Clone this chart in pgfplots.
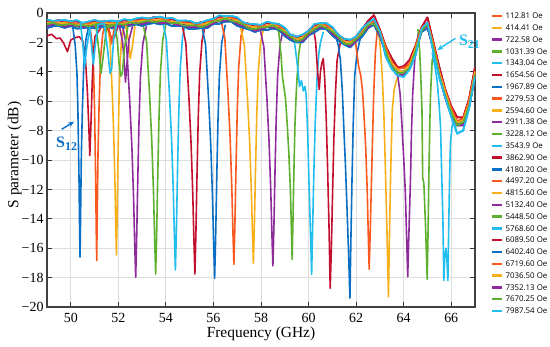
\documentclass[border=0pt]{standalone}
\usepackage{fontspec}
\setmainfont{Liberation Serif}
\newfontfamily\legfont{Open Sans}
\usepackage{pgfplots}
\pgfplotsset{compat=1.18}
\usepackage{pgfplotstable}
\usetikzlibrary{arrows.meta}
\definecolor{cO}{HTML}{F9591F}
\definecolor{cY}{HTML}{F7B01A}
\definecolor{cP}{HTML}{8E2C9C}
\definecolor{cG}{HTML}{5DB12E}
\definecolor{cC}{HTML}{21BDEF}
\definecolor{cR}{HTML}{C3102F}
\definecolor{cB}{HTML}{0B6FC4}

\pgfplotstableread{
x y
49.00 -0.53
49.25 -0.57
49.50 -0.49
49.75 -0.66
50.00 -0.56
50.25 -0.57
50.50 -0.75
50.75 -0.66
51.00 -0.55
51.25 -0.62
51.50 -0.53
51.75 -0.69
52.00 -0.58
52.25 -0.50
52.50 -0.57
52.75 -0.46
53.00 -0.38
53.25 -0.42
53.50 -0.29
53.75 -0.42
54.00 -0.38
54.25 -0.40
54.50 -0.60
54.75 -0.60
55.00 -0.61
55.25 -0.74
55.50 -0.63
55.75 -0.66
56.00 -0.41
56.25 -0.24
56.50 -0.30
56.75 -0.28
57.00 -0.38
57.25 -0.67
57.50 -0.73
57.75 -0.94
58.00 -0.81
58.25 -0.67
58.50 -0.77
58.75 -0.83
59.00 -1.08
59.25 -1.52
59.50 -1.61
59.75 -1.64
60.00 -1.21
60.25 -0.82
60.50 -0.77
60.75 -0.78
61.00 -1.03
61.25 -1.52
61.50 -1.76
61.75 -1.99
62.00 -1.61
62.25 -1.12
62.50 -0.55
62.75 -0.15
63.00 -1.13
63.25 -2.29
63.50 -3.08
63.75 -3.71
64.00 -3.63
64.25 -3.19
64.50 -2.22
64.75 -0.98
65.00 -0.30
65.25 -1.99
65.50 -3.68
65.75 -5.21
66.00 -6.33
66.25 -7.09
66.50 -7.12
66.75 -5.85
67.00 -3.70
}\bR

\pgfplotstableread{
x y
49.00 -0.69
49.25 -0.53
49.50 -0.69
49.75 -0.65
50.00 -0.59
50.25 -0.77
50.50 -0.75
50.75 -0.68
51.00 -0.71
51.25 -0.58
51.50 -0.73
51.75 -0.68
52.00 -0.61
52.25 -0.70
52.50 -0.57
52.75 -0.48
53.00 -0.54
53.25 -0.38
53.50 -0.49
53.75 -0.41
54.00 -0.41
54.25 -0.60
54.50 -0.60
54.75 -0.62
55.00 -0.77
55.25 -0.70
55.50 -0.83
55.75 -0.65
56.00 -0.44
56.25 -0.44
56.50 -0.30
56.75 -0.30
57.00 -0.54
57.25 -0.63
57.50 -0.93
57.75 -0.93
58.00 -0.84
58.25 -0.87
58.50 -0.77
58.75 -0.85
59.00 -1.24
59.25 -1.48
59.50 -1.81
59.75 -1.63
60.00 -1.24
60.25 -1.02
60.50 -0.77
60.75 -0.80
61.00 -1.19
61.25 -1.48
61.50 -1.96
61.75 -1.98
62.00 -1.64
62.25 -1.32
62.50 -0.75
62.75 -0.50
63.00 -1.29
63.25 -2.33
63.50 -3.36
63.75 -3.78
64.00 -3.74
64.25 -3.47
64.50 -2.30
64.75 -1.00
65.00 -0.69
65.25 -2.03
65.50 -3.96
65.75 -5.28
66.00 -6.44
66.25 -7.37
66.50 -7.20
66.75 -5.95
67.00 -3.94
}\bO

\pgfplotstableread{
x y
49.00 -0.65
49.25 -0.73
49.50 -0.68
49.75 -0.68
50.00 -0.79
50.25 -0.77
50.50 -0.77
50.75 -0.84
51.00 -0.67
51.25 -0.78
51.50 -0.72
51.75 -0.71
52.00 -0.81
52.25 -0.70
52.50 -0.59
52.75 -0.64
53.00 -0.50
53.25 -0.58
53.50 -0.48
53.75 -0.44
54.00 -0.61
54.25 -0.60
54.50 -0.62
54.75 -0.78
55.00 -0.73
55.25 -0.90
55.50 -0.82
55.75 -0.68
56.00 -0.64
56.25 -0.44
56.50 -0.32
56.75 -0.46
57.00 -0.50
57.25 -0.83
57.50 -0.92
57.75 -0.96
58.00 -1.04
58.25 -0.87
58.50 -0.79
58.75 -1.01
59.00 -1.20
59.25 -1.68
59.50 -1.80
59.75 -1.66
60.00 -1.44
60.25 -1.02
60.50 -0.79
60.75 -0.96
61.00 -1.15
61.25 -1.68
61.50 -1.95
61.75 -2.01
62.00 -1.84
62.25 -1.32
62.50 -0.77
62.75 -0.66
63.00 -1.25
63.25 -2.61
63.50 -3.43
63.75 -3.89
64.00 -4.02
64.25 -3.55
64.50 -2.40
64.75 -1.16
65.00 -0.65
65.25 -2.31
65.50 -4.03
65.75 -5.39
66.00 -6.72
66.25 -7.45
66.50 -7.30
66.75 -6.19
67.00 -3.98
}\bY

\pgfplotstableread{
x y
49.00 -0.91
49.25 -0.78
49.50 -0.77
49.75 -0.94
50.00 -0.85
50.25 -0.85
50.50 -0.99
50.75 -0.86
51.00 -0.93
51.25 -0.83
51.50 -0.81
51.75 -0.97
52.00 -0.87
52.25 -0.78
52.50 -0.81
52.75 -0.66
53.00 -0.76
53.25 -0.63
53.50 -0.57
53.75 -0.70
54.00 -0.67
54.25 -0.68
54.50 -0.84
54.75 -0.80
55.00 -0.99
55.25 -0.95
55.50 -0.91
55.75 -0.94
56.00 -0.70
56.25 -0.52
56.50 -0.54
56.75 -0.48
57.00 -0.76
57.25 -0.88
57.50 -1.01
57.75 -1.22
58.00 -1.10
58.25 -0.95
58.50 -1.01
58.75 -1.03
59.00 -1.46
59.25 -1.73
59.50 -1.89
59.75 -1.92
60.00 -1.50
60.25 -1.10
60.50 -1.01
60.75 -0.98
61.00 -1.41
61.25 -1.73
61.50 -2.04
61.75 -2.27
62.00 -1.90
62.25 -1.40
62.50 -0.99
62.75 -0.68
63.00 -1.51
63.25 -2.78
63.50 -3.64
63.75 -4.27
64.00 -4.20
64.25 -3.75
64.50 -2.74
64.75 -1.18
65.00 -0.91
65.25 -2.48
65.50 -4.24
65.75 -5.77
66.00 -6.90
66.25 -7.65
66.50 -7.64
66.75 -6.33
67.00 -4.36
}\bP

\pgfplotstableread{
x y
49.00 -0.76
49.25 -0.67
49.50 -0.83
49.75 -0.80
50.00 -0.73
50.25 -0.87
50.50 -0.81
50.75 -0.92
51.00 -0.78
51.25 -0.72
51.50 -0.87
51.75 -0.83
52.00 -0.75
52.25 -0.80
52.50 -0.63
52.75 -0.72
53.00 -0.61
53.25 -0.52
53.50 -0.63
53.75 -0.56
54.00 -0.55
54.25 -0.70
54.50 -0.66
54.75 -0.86
55.00 -0.84
55.25 -0.84
55.50 -0.97
55.75 -0.80
56.00 -0.58
56.25 -0.54
56.50 -0.36
56.75 -0.54
57.00 -0.61
57.25 -0.77
57.50 -1.07
57.75 -1.08
58.00 -0.98
58.25 -0.97
58.50 -0.83
58.75 -1.09
59.00 -1.31
59.25 -1.62
59.50 -1.95
59.75 -1.78
60.00 -1.38
60.25 -1.12
60.50 -0.83
60.75 -1.04
61.00 -1.26
61.25 -1.62
61.50 -2.10
61.75 -2.13
62.00 -1.78
62.25 -1.42
62.50 -0.81
62.75 -0.74
63.00 -1.36
63.25 -2.64
63.50 -3.67
63.75 -4.10
64.00 -4.05
64.25 -3.74
64.50 -2.53
64.75 -1.24
65.00 -0.76
65.25 -2.34
65.50 -4.27
65.75 -5.60
66.00 -6.75
66.25 -7.64
66.50 -7.43
66.75 -6.36
67.00 -4.18
}\bG

\pgfplotstableread{
x y
49.00 -0.46
49.25 -0.54
49.50 -0.50
49.75 -0.49
50.00 -0.56
50.25 -0.50
50.50 -0.68
50.75 -0.58
51.00 -0.48
51.25 -0.59
51.50 -0.54
51.75 -0.52
52.00 -0.58
52.25 -0.43
52.50 -0.50
52.75 -0.38
53.00 -0.31
53.25 -0.39
53.50 -0.30
53.75 -0.25
54.00 -0.38
54.25 -0.33
54.50 -0.53
54.75 -0.52
55.00 -0.54
55.25 -0.71
55.50 -0.64
55.75 -0.49
56.00 -0.41
56.25 -0.17
56.50 -0.23
56.75 -0.20
57.00 -0.31
57.25 -0.64
57.50 -0.74
57.75 -0.77
58.00 -0.81
58.25 -0.60
58.50 -0.70
58.75 -0.75
59.00 -1.01
59.25 -1.49
59.50 -1.62
59.75 -1.47
60.00 -1.21
60.25 -0.75
60.50 -0.70
60.75 -0.70
61.00 -0.96
61.25 -1.49
61.50 -1.77
61.75 -1.82
62.00 -1.61
62.25 -1.05
62.50 -0.68
62.75 -0.40
63.00 -1.24
63.25 -2.97
63.50 -3.80
63.75 -4.25
64.00 -4.34
64.25 -3.83
64.50 -2.86
64.75 -1.08
65.00 -0.64
65.25 -2.67
65.50 -4.40
65.75 -5.75
66.00 -7.04
66.25 -8.20
66.50 -8.00
66.75 -6.48
67.00 -4.34
}\bC

\pgfplotstableread{
x y
49.00 -1.02
49.25 -0.90
49.50 -0.88
49.75 -1.01
50.00 -0.88
50.25 -1.06
50.50 -1.03
50.75 -0.97
51.00 -1.04
51.25 -0.95
51.50 -0.92
51.75 -1.04
52.00 -0.90
52.25 -0.99
52.50 -0.85
52.75 -0.77
53.00 -0.87
53.25 -0.75
53.50 -0.68
53.75 -0.77
54.00 -0.70
54.25 -0.89
54.50 -0.88
54.75 -0.91
55.00 -1.10
55.25 -1.07
55.50 -1.02
55.75 -1.01
56.00 -0.73
56.25 -0.73
56.50 -0.58
56.75 -0.59
57.00 -0.87
57.25 -1.00
57.50 -1.12
57.75 -1.29
58.00 -1.13
58.25 -1.16
58.50 -1.05
58.75 -1.14
59.00 -1.57
59.25 -1.85
59.50 -2.00
59.75 -1.99
60.00 -1.53
60.25 -1.31
60.50 -1.05
60.75 -1.09
61.00 -1.52
61.25 -1.85
61.50 -2.15
61.75 -2.34
62.00 -1.93
62.25 -1.61
62.50 -1.03
62.75 -0.79
63.00 -1.62
63.25 -2.65
63.50 -3.50
63.75 -4.09
64.00 -3.98
64.25 -3.71
64.50 -2.53
64.75 -1.29
65.00 -1.02
65.25 -2.35
65.50 -4.10
65.75 -5.59
66.00 -6.68
66.25 -7.61
66.50 -7.43
66.75 -6.19
67.00 -4.22
}\bB

\begin{document}
\begin{tikzpicture}
\path[use as bounding box] (-47bp,-40bp) rectangle (503bp,307bp);
\begin{axis}[
  at={(0,0)}, anchor=south west,
  scale only axis, width=428bp, height=294bp,
  xmin=49, xmax=67, ymin=-20, ymax=0,
  xtick={50,52,...,66}, xticklabels={50,52,54,56,58,60,62,64,66},
  ytick={-20,-18,...,0},
  yticklabels={−20,−18,−16,−14,−12,−10,−8,−6,−4,−2,0},
  ticklabel style={font=\fontsize{14}{16}\selectfont},
  xticklabel style={yshift=-3bp},
  xlabel={Frequency (GHz)}, ylabel={S parameter (dB)},
  label style={font=\fontsize{15.5}{18}\selectfont},
  xlabel style={at={(axis description cs:0.5,0)}, anchor=north, inner sep=0pt, yshift=-20bp},
  ylabel style={at={(axis description cs:-0.059,0.517)}, anchor=south, inner sep=0pt, rotate=0},
  grid=major, grid style={line width=0.8bp, color=black!13},
  axis line style={line width=1.3bp, color=black!75},
  tick align=inside, major tick length=5bp,
  tick style={line width=0.8bp, color=black!80},
  clip mode=individual,
  no markers,
  every axis plot/.append style={line width=1.6bp, line join=round},
  legend image code/.code={\draw[#1, line width=2.4bp] (0bp,0bp) -- (10bp,0bp);},
  legend cell align=left,
  legend style={at={(axis description cs:1.036,1.006)}, anchor=north west,
    draw=none, fill=none, inner sep=0pt, row sep=2.8bp, column sep=2.6bp,
    font=\legfont\fontsize{7.9}{9}\selectfont,
    nodes={inner sep=0pt, text height=7.2bp, text depth=1.8bp}},
]
% 1
\addplot[cO] table {\bO}; \addlegendentry{112.81 Oe}
\addplot[cO, forget plot] coordinates {(50.79,-0.68) (50.89,-1.97) (50.96,-3.91) (51.00,-6.50) (51.045,-11.19) (51.072,-14.91) (51.09,-16.85) (51.115,-13.62) (51.145,-9.57) (51.19,-6.34) (51.25,-3.11) (51.34,-1.49) (51.44,-0.68)};
% 2
\addplot[cY] table {\bY}; \addlegendentry{414.41 Oe}
\addplot[cY, forget plot] coordinates {(51.535,-0.78) (51.654,-2.03) (51.745,-5.48) (51.808,-8.31) (51.857,-11.44) (51.892,-14.42) (51.92,-16.46) (51.948,-14.11) (51.983,-10.19) (52.018,-6.74) (52.06,-3.92) (52.13,-1.88) (52.235,-0.78)};
% 3
\addplot[cP] table {\bP}; \addlegendentry{722.58 Oe}
\addplot[cP, forget plot] coordinates {(52.18,-0.9) (52.35,-2.27) (52.48,-6.02) (52.57,-9.10) (52.64,-12.51) (52.69,-15.76) (52.73,-17.98) (52.77,-15.42) (52.82,-11.15) (52.87,-7.39) (52.93,-4.32) (53.03,-2.10) (53.18,-0.9)};
% 4
\addplot[cG] table {\bG}; \addlegendentry{1031.39 Oe}
\addplot[cG, forget plot] coordinates {(53.02,-0.6) (53.19,-1.97) (53.32,-5.75) (53.41,-8.84) (53.48,-12.27) (53.53,-15.53) (53.57,-17.76) (53.61,-15.19) (53.66,-10.90) (53.71,-7.12) (53.77,-4.03) (53.87,-1.80) (54.02,-0.6)};
% 5
\addplot[cC] table {\bC}; \addlegendentry{1343.04 Oe}
\addplot[cC, forget plot] coordinates {(53.85,-0.45) (54.02,-1.81) (54.15,-5.56) (54.24,-8.62) (54.31,-12.03) (54.36,-15.27) (54.40,-17.48) (54.44,-14.93) (54.49,-10.67) (54.54,-6.92) (54.60,-3.86) (54.70,-1.64) (54.85,-0.45)};
% 6
\addplot[cR] table {\bR}; \addlegendentry{1654.56 Oe}
\addplot[cR, forget plot] coordinates {(54.67,-0.7) (54.84,-2.06) (54.97,-5.82) (55.06,-8.89) (55.13,-12.30) (55.18,-15.54) (55.22,-17.76) (55.26,-15.20) (55.31,-10.94) (55.36,-7.18) (55.42,-4.11) (55.52,-1.89) (55.67,-0.7)};
% 7
\addplot[cB] table {\bB}; \addlegendentry{1967.89 Oe}
\addplot[cB, forget plot] coordinates {(55.50,-0.8) (55.67,-2.18) (55.80,-5.98) (55.89,-9.08) (55.96,-12.53) (56.01,-15.81) (56.05,-18.05) (56.09,-15.46) (56.14,-11.15) (56.19,-7.36) (56.25,-4.25) (56.35,-2.01) (56.50,-0.8)};
% 8
\addplot[cO] table {\bO}; \addlegendentry{2279.53 Oe}
\addplot[cO, forget plot] coordinates {(56.31,-0.4) (56.48,-1.74) (56.61,-5.41) (56.70,-8.42) (56.77,-11.76) (56.82,-14.93) (56.86,-17.10) (56.90,-14.60) (56.95,-10.42) (57.00,-6.75) (57.06,-3.74) (57.16,-1.57) (57.31,-0.7)};
% 9
\addplot[cY] table {\bY}; \addlegendentry{2594.60 Oe}
\addplot[cY, forget plot] coordinates {(57.13,-0.9) (57.30,-2.19) (57.43,-5.74) (57.52,-8.64) (57.59,-11.87) (57.64,-14.93) (57.68,-17.03) (57.72,-14.61) (57.77,-10.58) (57.82,-7.03) (57.88,-4.13) (57.98,-2.03) (58.13,-0.9)};
% 10
\addplot[cP] table {\bP}; \addlegendentry{2911.38 Oe}
\addplot[cP, forget plot] coordinates {(57.95,-1.0) (58.12,-2.30) (58.25,-5.86) (58.34,-8.78) (58.41,-12.02) (58.46,-15.09) (58.50,-17.2) (58.54,-14.77) (58.59,-10.72) (58.64,-7.16) (58.70,-4.24) (58.80,-2.13) (58.95,-1.0)};
% 11
\addplot[cG] table {\bG}; \addlegendentry{3228.12 Oe}
\addplot[cG, forget plot] coordinates {(58.65,-1.0) (58.75,-1.3) (58.85,-3.0) (58.90,-4.3) (58.96,-5.0) (59.03,-5.8) (59.10,-7.5) (59.17,-9.5) (59.24,-12.2) (59.28,-14.8) (59.31,-16.76) (59.34,-14.5) (59.38,-11.0) (59.43,-7.5) (59.48,-5.5) (59.52,-4.3) (59.59,-2.8) (59.66,-2.0) (59.80,-1.7)};
% 12
\addplot[cC] table {\bC}; \addlegendentry{3543.9 Oe}
\addplot[cC, forget plot] coordinates {(59.35,-1.4) (59.45,-2.5) (59.55,-3.8) (59.62,-5.0) (59.70,-4.6) (59.78,-5.3) (59.85,-5.0) (59.90,-5.6) (59.96,-8.0) (60.01,-11.1) (60.06,-13.8) (60.10,-16.0) (60.13,-17.78) (60.16,-15.5) (60.22,-11.0) (60.28,-7.5) (60.36,-4.3) (60.43,-2.8) (60.50,-2.0) (60.62,-1.3)};
% 13
\addplot[cR] table {\bR}; \addlegendentry{3862.90 Oe}
\addplot[cR, forget plot] coordinates {(60.20,-1.0) (60.30,-2.0) (60.38,-4.0) (60.45,-5.2) (60.50,-4.0) (60.56,-3.4) (60.62,-3.1) (60.68,-4.5) (60.74,-7.0) (60.80,-10.5) (60.86,-14.5) (60.91,-18.73) (60.96,-16.0) (61.00,-13.0) (61.06,-8.8) (61.13,-5.5) (61.20,-3.2) (61.34,-2.0) (61.45,-1.7)};
% 14
\addplot[cB] table {\bB}; \addlegendentry{4180.20 Oe}
\addplot[cB, forget plot] coordinates {(61.15,-1.6) (61.25,-2.2) (61.34,-3.2) (61.42,-5.3) (61.48,-7.7) (61.55,-10.3) (61.62,-13.4) (61.68,-16.2) (61.74,-19.4) (61.78,-15.5) (61.83,-11.1) (61.88,-7.5) (61.94,-4.3) (62.04,-2.7) (62.15,-1.9) (62.25,-1.4)};
% 15
\addplot[cO] table {\bO}; \addlegendentry{4497.20 Oe}
\addplot[cO, forget plot] coordinates {(61.95,-1.6) (62.02,-2.6) (62.11,-3.65) (62.20,-4.3) (62.27,-5.3) (62.32,-6.6) (62.40,-9.0) (62.47,-12.2) (62.51,-15.0) (62.55,-17.44) (62.60,-14.5) (62.65,-11.1) (62.70,-8.0) (62.74,-5.5) (62.81,-2.7) (62.89,-1.15) (62.98,-0.9)};
% 16
\addplot[cY] table {\bY}; \addlegendentry{4815.60 Oe}
\addplot[cY, forget plot] coordinates {(62.85,-0.9) (62.95,-1.3) (63.03,-2.6) (63.10,-4.3) (63.17,-7.0) (63.24,-11.1) (63.30,-15.0) (63.36,-19.3) (63.41,-14.5) (63.45,-11.1) (63.52,-6.6) (63.60,-5.2) (63.66,-4.8) (63.80,-4.1)};
% 17
\addplot[cP] table {\bP}; \addlegendentry{5132.40 Oe}
\addplot[cP, forget plot] coordinates {(63.75,-4.2) (63.85,-5.5) (63.93,-7.7) (64.00,-9.8) (64.07,-12.2) (64.12,-15.0) (64.17,-17.94) (64.22,-15.0) (64.29,-11.1) (64.33,-8.0) (64.38,-5.5) (64.44,-3.8) (64.50,-2.5) (64.62,-1.4) (64.72,-1.2)};
% 18
\addplot[cG] table {\bG}; \addlegendentry{5448.50 Oe}
\addplot[cG, forget plot] coordinates {(64.60,-1.1) (64.67,-2.5) (64.72,-4.3) (64.77,-6.6) (64.80,-11.2) (64.85,-11.6) (64.92,-14.5) (64.99,-18.12) (65.03,-14.5) (65.06,-11.1) (65.10,-7.5) (65.13,-5.5) (65.20,-3.2) (65.30,-2.6)};
% 19
\addplot[cC] table {\bC}; \addlegendentry{5768.60 Oe}
\addplot[cC, forget plot] coordinates {(65.20,-2.7) (65.30,-3.5) (65.40,-4.5) (65.48,-6.0) (65.55,-7.7) (65.60,-11.0) (65.65,-14.0) (65.69,-18.2) (65.73,-16.5) (65.78,-16.0) (65.82,-16.8) (65.86,-18.2) (65.90,-14.0) (65.94,-10.5) (65.97,-8.8) (66.03,-7.8) (66.10,-7.3) (66.20,-7.8)};
% 20
\addplot[cR] table {\bR}; \addlegendentry{6089.50 Oe}
\addplot[cR, forget plot] coordinates {(49.00,-1.55) (49.20,-1.45) (49.40,-1.75) (49.55,-1.70) (49.70,-2.05) (49.86,-2.63) (49.95,-2.10) (50.00,-1.84) (50.15,-1.70) (50.35,-1.60) (50.50,-1.90) (50.62,-3.20) (50.70,-5.40) (50.76,-7.80) (50.80,-9.70) (50.85,-7.50) (50.91,-4.30) (50.97,-2.40) (51.02,-1.60) (51.15,-1.30) (51.30,-0.90) (51.45,-0.75) (51.60,-1.20) (51.75,-1.90) (51.85,-1.60) (52.00,-0.80)};
% 21
\addplot[cB] table {\bB}; \addlegendentry{6402.40 Oe}
\addplot[cB, forget plot] coordinates {(50.09,-1.0) (50.19,-2.25) (50.26,-4.12) (50.30,-6.62) (50.345,-11.14) (50.372,-14.73) (50.39,-16.6) (50.415,-13.48) (50.445,-9.58) (50.49,-6.46) (50.55,-3.34) (50.64,-1.78) (50.74,-1.0)};
% 22
\addplot[cO] table {\bO}; \addlegendentry{6719.60 Oe}
\addplot[cO, forget plot] coordinates {(51.55,-0.7) (51.65,-1.4) (51.72,-2.1) (51.80,-1.3) (51.90,-0.7)};
% 23
\addplot[cY] table {\bY}; \addlegendentry{7036.50 Oe}
\addplot[cY, forget plot] coordinates {(52.30,-0.8) (52.42,-1.8) (52.50,-3.1) (52.58,-2.4) (52.70,-0.9)};
% 24
\addplot[cP] table {\bP}; \addlegendentry{7352.13 Oe}
\addplot[cP, forget plot] coordinates {(52.05,-0.9) (52.18,-2.0) (52.25,-3.4) (52.30,-4.7) (52.36,-3.5) (52.45,-1.8) (52.60,-0.9)};
% 25
\addplot[cG] table {\bG}; \addlegendentry{7670.25 Oe}
\addplot[cG, forget plot] coordinates {(51.05,-0.8) (51.18,-2.5) (51.27,-4.1) (51.36,-3.0) (51.50,-1.0) (51.85,-0.8) (51.95,-1.8) (52.03,-3.4) (52.10,-4.3) (52.17,-4.1) (52.25,-2.5) (52.40,-0.9)};
% 26
\addplot[cC] table {\bC}; \addlegendentry{7987.54 Oe}
\addplot[cC, forget plot] coordinates {(50.40,-0.6) (50.50,-2.0) (50.58,-3.7) (50.66,-2.5) (50.80,-1.0) (50.88,-2.4) (50.95,-3.5) (51.03,-2.2) (51.15,-0.8) (51.40,-0.7) (51.55,-2.5) (51.65,-4.1) (51.72,-3.8) (51.80,-1.8) (51.95,-0.6)};

% annotations
\draw[-{Stealth[length=6bp,width=5bp]}, line width=1.4bp, cB] (axis cs:49.62,-7.91) -- (axis cs:50.14,-7.39);
\node[anchor=base west, inner sep=0pt, text=cB] at (axis cs:49.38,-9.15)
  {\fontsize{16}{16}\selectfont\bfseries S\raisebox{-0.35ex}{\fontsize{12}{12}\selectfont 12}};
\draw[-{Stealth[length=6bp,width=5bp]}, line width=1.4bp, cC] (axis cs:66.18,-1.72) -- (axis cs:65.41,-2.52);
\node[anchor=base west, inner sep=0pt, text=cC] at (axis cs:66.32,-2.24)
  {\fontsize{16}{16}\selectfont\bfseries S\raisebox{-0.35ex}{\fontsize{12}{12}\selectfont 21}};
\end{axis}
\end{tikzpicture}
\end{document}
